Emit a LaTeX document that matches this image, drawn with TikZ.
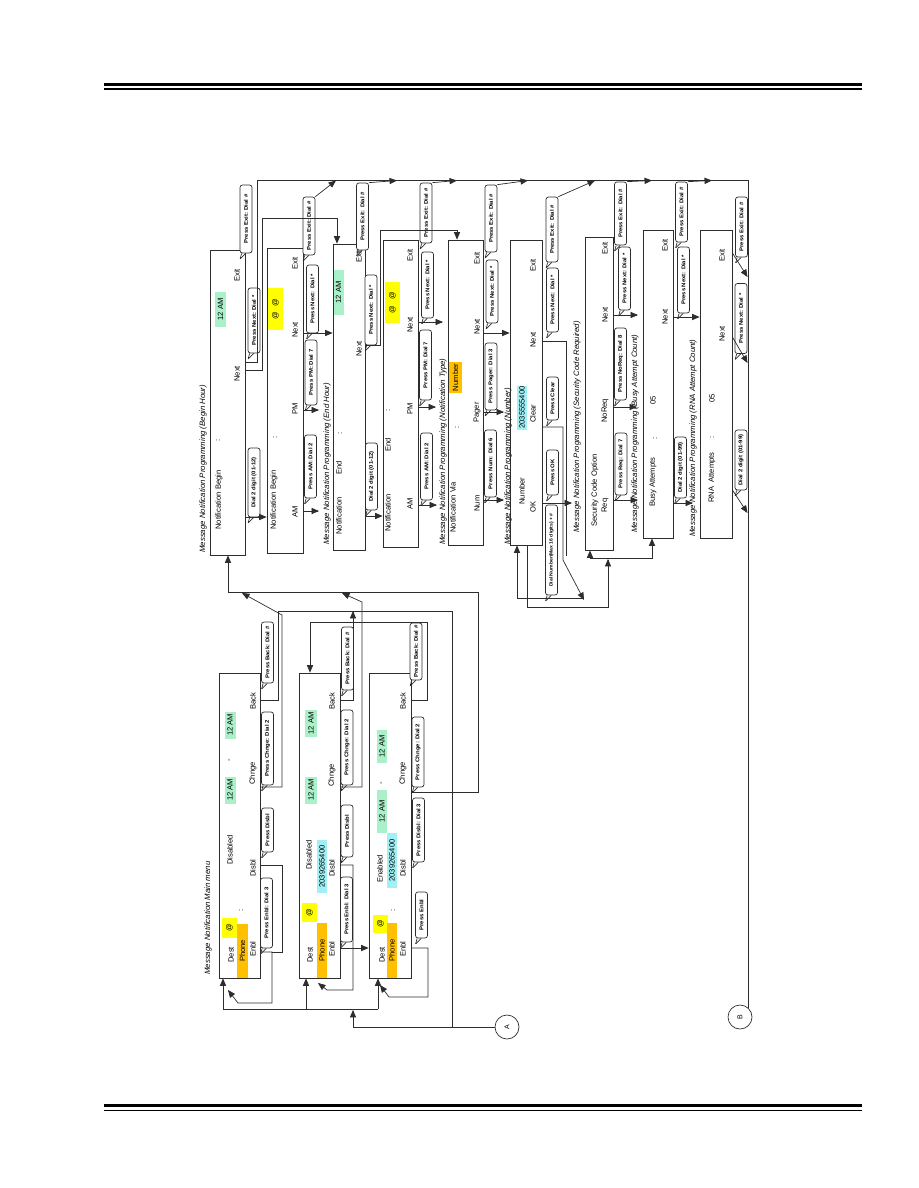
\documentclass[tikz,border=0pt]{standalone}
\usepackage{fontspec}
\setmainfont{Liberation Sans}
\newfontfamily\bubfont[FakeStretch=1.1]{Liberation Sans}
\usepackage{tikz}
\usetikzlibrary{calc,arrows,shapes,positioning}

\definecolor{ln}{RGB}{45,45,45}
\definecolor{hlgreen}{RGB}{170,240,200}
\definecolor{hlyellow}{RGB}{255,255,0}
\definecolor{hlorange}{RGB}{255,192,0}
\definecolor{hlcyan}{RGB}{160,240,245}

\tikzset{
  scr/.style={draw, line width=0.8pt, inner sep=0pt},
  lbl/.style={rotate=90, anchor=west, inner sep=0pt, text=black, font=\fontsize{7.6}{9}\selectfont},
  ttl/.style={lbl, font=\fontsize{7.8}{9}\selectfont\itshape},
  hl/.style={lbl, anchor=center, fill=#1, minimum height=11pt},
  bubble/.style={draw, fill=white, rounded corners=2.5pt, rotate=90, inner xsep=1pt, inner ysep=0pt,
    minimum height=12pt, minimum width=#1, text=black, font=\bubfont\bfseries\fontsize{5.4}{6}\selectfont,
    append after command={(\tikzlastnode.north west) ++(2,0) edge ++(-1.5,5.5)
      (\tikzlastnode.north west) ++(6,0) edge ++(-5.5,5.5)}},
  bubble/.default=60,
  pin/.style={draw, circle, minimum size=24pt, inner sep=0pt, text=black, font=\fontsize{7}{8}\selectfont},
}

\begin{document}
\begin{tikzpicture}[x=1pt,y=-1pt,>=triangle 45,line width=0.7pt,color=ln]
\useasboundingbox (0,0) rectangle (918,1188);

% header and footer rules
\fill[black] (104,83) rectangle (862,86);
\fill[black] (104,88.5) rectangle (862,90.5);
\fill[black] (104,1104) rectangle (862,1107);
\fill[black] (104,1109.5) rectangle (862,1111);

% titles
\node[ttl] (tmain) at (208,975) {Message Notification Main menu};
\node[ttl] (tbegin) at (203,553) {Message Notification Programming (Begin Hour)};
\node[ttl] (tend) at (327,545) {Message Notification Programming (End Hour)};
\node[ttl] (ttype) at (443,545) {Message Notification Programming (Notification Type)};
\node[ttl] (tnum) at (508,545) {Message Notification Programming (Number)};
\node[ttl] (tsec) at (577,533) {Message Notification Programming (Security Code Required)};
\node[ttl] (tbusy) at (635,533) {Message Notification Programming (Busy Attempt Count)};
\node[ttl] (trna) at (693,537) {Message Notification Programming (RNA Attempt Count)};

% programming screens
\node[scr, minimum width=35, minimum height=305] (p1) at (227.5,402.5) {};
\node[scr, minimum width=36, minimum height=305] (p2) at (285,400.5) {};
\node[scr, minimum width=32, minimum height=306] (p3) at (349,397) {};
\node[scr, minimum width=35, minimum height=307] (p4) at (400.5,393.5) {};
\node[scr, minimum width=35, minimum height=305] (p5) at (465.5,392.5) {};
\node[scr, minimum width=32, minimum height=305] (p6) at (526,392.5) {};
\node[scr, minimum width=28, minimum height=313] (p7) at (599,393.5) {};
\node[scr, minimum width=30, minimum height=308] (p8) at (658,384) {};
\node[scr, minimum width=32, minimum height=308] (p9) at (716,384) {};

% main menu screens
\node[scr, minimum width=41, minimum height=305] (m1) at (239.5,825.5) {};
\node[scr, minimum width=41, minimum height=305] (m2) at (319.5,825.5) {};
\node[scr, minimum width=42, minimum height=305] (m3) at (390,825.5) {};

% begin hour
\node[lbl] (p1a) at (219,530) {Notification Begin};
\node[lbl] (p1b) at (218,442) {:};
\node[hl=hlgreen, minimum width=35] (p1c) at (220.5,309.5) {12 AM};
\node[lbl] (p1d) at (237,382) {Next};
\node[lbl] (p1e) at (237,282) {Exit};
\node[lbl] (p2a) at (274,530) {Notification Begin};
\node[lbl] (p2b) at (275,439) {:};
\node[hl=hlyellow, minimum width=42, minimum height=15] (p2c) at (275.5,309) {@\hspace{6pt}@};
\node[lbl] (p2d) at (295,518) {AM};
\node[lbl] (p2e) at (295,415) {PM};
\node[lbl] (p2f) at (295,338) {Next};
\node[lbl] (p2g) at (295,270) {Exit};
% end hour
\node[lbl] (p3a) at (339,535) {Notification};
\node[lbl] (p3b) at (339,475) {End};
\node[lbl] (p3c) at (340,435) {:};
\node[hl=hlgreen, minimum width=45, minimum height=10] (p3d) at (338.5,292.5) {12 AM};
\node[lbl] (p3e) at (359,357) {Next};
\node[lbl] (p3f) at (359,263) {Exit};
\node[lbl] (p4a) at (388,532) {Notification};
\node[lbl] (p4b) at (388,452) {End};
\node[lbl] (p4c) at (388,412) {:};
\node[hl=hlyellow, minimum width=41, minimum height=15] (p4d) at (392.5,302.5) {@\hspace{6pt}@};
\node[lbl] (p4e) at (410,510) {AM};
\node[lbl] (p4f) at (410,415) {PM};
\node[lbl] (p4g) at (410,333) {Next};
\node[lbl] (p4h) at (410,262) {Exit};
% notification type
\node[lbl] (p5a) at (453,533) {Notification Via};
\node[lbl] (p5b) at (457,429) {:};
\node[hl=hlorange, minimum width=31, minimum height=13] (p5c) at (455.5,377.5) {Number};
\node[lbl] (p5d) at (477,512) {Num};
\node[lbl] (p5e) at (477,423) {Pager};
\node[lbl] (p5f) at (477,335) {Next};
\node[lbl] (p5g) at (477,265) {Exit};
% number
\node[lbl] (p6a) at (522,505) {Number};
\node[hl=hlcyan, minimum width=44, minimum height=10] (p6b) at (522,407.5) {2035555400};
\node[lbl] (p6c) at (533,513) {OK};
\node[lbl] (p6d) at (533,423) {Clear};
\node[lbl] (p6e) at (533,348) {Next};
\node[lbl] (p6f) at (533,272) {Exit};
% security code
\node[lbl] (p7a) at (595,527) {Security Code Option};
\node[lbl] (p7b) at (605,513) {Req};
\node[lbl] (p7c) at (605,423) {NoReq};
\node[lbl] (p7d) at (605,323) {Next};
\node[lbl] (p7e) at (605,255) {Exit};
% busy attempts
\node[lbl] (p8a) at (653,507) {Busy Attempts};
\node[lbl] (p8b) at (655,440) {:};
\node[lbl] (p8c) at (653,405) {05};
\node[lbl] (p8d) at (665,325) {Next};
\node[lbl] (p8e) at (665,252) {Exit};
% rna attempts
\node[lbl] (p9a) at (712,503) {RNA\ \ Attempts};
\node[lbl] (p9b) at (712,439) {:};
\node[lbl] (p9c) at (712,403) {05};
\node[lbl] (p9d) at (722,342) {Next};
\node[lbl] (p9e) at (722,262) {Exit};

% main menu texts
\node[lbl] (m1a) at (231,963) {Dest};
\node[hl=hlyellow, minimum width=20, minimum height=15] (m1b) at (229.5,928) {@};
\node[lbl] (m1c) at (241,912) {:};
\node[hl=hlorange, minimum width=54] (m1d) at (242.5,951) {Phone};
\node[lbl] (m1e) at (253,957) {Enbl};
\node[lbl] (m1f) at (230,865) {Disabled};
\node[lbl] (m1g) at (253,877) {Disbl};
\node[hl=hlgreen, minimum width=27] (m1h) at (230,790) {12 AM};
\node[lbl] (m1i) at (230,762) {-};
\node[hl=hlgreen, minimum width=27] (m1j) at (230,725) {12 AM};
\node[lbl] (m1k) at (253,785) {Chnge};
\node[lbl] (m1l) at (253,710) {Back};
\node[lbl] (m2a) at (310,963) {Dest};
\node[hl=hlyellow, minimum width=19, minimum height=15] (m2b) at (309.5,912.5) {@};
\node[hl=hlorange, minimum width=55, minimum height=10] (m2c) at (322,950.5) {Phone};
\node[lbl] (m2d) at (332,957) {Enbl};
\node[lbl] (m2e) at (309,870) {Disabled};
\node[hl=hlcyan, minimum width=53, minimum height=10] (m2f) at (322,866.5) {2039265400};
\node[lbl] (m2g) at (332,877) {Disbl};
\node[hl=hlgreen, minimum width=27, minimum height=12] (m2h) at (311,790) {12 AM};
\node[hl=hlgreen, minimum width=27, minimum height=12] (m2i) at (311,723.5) {12 AM};
\node[lbl] (m2j) at (332,787) {Chnge};
\node[lbl] (m2k) at (332,710) {Back};
\node[lbl] (m3a) at (382,963) {Dest};
\node[hl=hlyellow, minimum width=18, minimum height=15] (m3b) at (380.5,924) {@};
\node[lbl] (m3c) at (393,912) {:};
\node[hl=hlorange, minimum width=55, minimum height=10] (m3d) at (392,950.5) {Phone};
\node[lbl] (m3e) at (403,957) {Enbl};
\node[lbl] (m3f) at (380,883) {Enabled};
\node[hl=hlcyan, minimum width=55, minimum height=10] (m3g) at (392,860.5) {2039265400};
\node[lbl] (m3h) at (403,877) {Disbl};
\node[hl=hlgreen, minimum width=43, minimum height=10] (m3i) at (382,811.5) {12 AM};
\node[lbl] (m3j) at (382,785) {-};
\node[hl=hlgreen, minimum width=33, minimum height=10] (m3k) at (382,746.5) {12 AM};
\node[lbl] (m3l) at (403,785) {Chnge};
\node[lbl] (m3m) at (403,710) {Back};

% bubbles
\node[bubble=68] (b1x) at (246,219) {Press Exit: Dial \#};
\node[bubble=65] (b1n) at (254,320.5) {Press Next: Dial *};
\node[bubble=69] (b1d) at (254,482.5) {Dial 2 digit (01-12)};
\node[bubble=58] (b2x) at (309,226) {Press Exit: Dial \#};
\node[bubble=68] (b2n) at (312.5,299) {Press Next: Dial *};
\node[bubble=65] (b2p) at (311,372.5) {Press PM: Dial 7};
\node[bubble=63] (b2a) at (310.5,466.5) {Press AM: Dial 2};
\node[bubble=67] (b3x) at (362.5,216.5) {Press Exit: Dial \#};
\node[bubble=70] (b3n) at (371,310) {Press Next: Dial *};
\node[bubble=67] (b3d) at (371.5,476.5) {Dial 2 digit (01-12)};
\node[bubble=60] (b4x) at (426,213) {Press Exit: Dial \#};
\node[bubble=66] (b4n) at (427.5,285) {Press Next: Dial *};
\node[bubble=70] (b4p) at (425.5,365) {Press PM: Dial 7};
\node[bubble=67] (b4a) at (426.5,466.5) {Press AM: Dial 2};
\node[bubble=67] (b5x) at (491,218.5) {Press Exit: Dial \#};
\node[bubble=63] (b5n) at (492,291.5) {Press Next: Dial *};
\node[bubble=67] (b5p) at (491,376.5) {Press Pager: Dial 3};
\node[bubble=67] (b5m) at (490.5,463.5) {Press Num: Dial 6};
\node[bubble=65] (b6x) at (552,229.5) {Press Exit: Dial \#};
\node[bubble=64] (b6n) at (552.5,300) {Press Next: Dial *};
\node[bubble=43] (b6c) at (552.5,398.5) {Press Clear};
\node[bubble=45] (b6o) at (552.5,472.5) {Press OK};
\node[bubble=90, font=\bubfont\bfseries\fontsize{4.6}{5}\selectfont] (b6d) at (551.5,550) {Dial Number(Max 16 digits) + \#};
\node[bubble=63] (b7x) at (620.5,213.5) {Press Exit: Dial \#};
\node[bubble=63] (b7n) at (624.5,278.5) {Press Next: Dial *};
\node[bubble=72] (b7q) at (620.5,364) {Press NoReq: Dial 8};
\node[bubble=62] (b7r) at (621,464) {Press Req: Dial 7};
\node[bubble=60] (b8x) at (681.5,212) {Press Exit: Dial \#};
\node[bubble=66] (b8n) at (683.5,280) {Press Next: Dial *};
\node[bubble=61] (b8d) at (680.5,467.5) {Dial 2 digit (01-99)};
\node[bubble=60] (b9x) at (741.5,227) {Press Exit: Dial \#};
\node[bubble=70] (b9n) at (741,318.5) {Press Next: Dial *};
\node[bubble=60] (b9d) at (741,460) {Dial 2 digit (01-99)};
\node[bubble=61] (bm1k) at (267.5,652.5) {Press Back: Dial \#};
\node[bubble=73] (bm1c) at (267.5,748.5) {Press Chnge: Dial 2};
\node[bubble=44] (bm1d) at (267.5,830) {Press Disbl};
\node[bubble=70] (bm1e) at (266.5,913) {Press Enbl: Dial 3};
\node[bubble=63] (bm2k) at (347.5,658.5) {Press Back: Dial \#};
\node[bubble=75] (bm2c) at (347,747.5) {Press Chnge: Dial 2};
\node[bubble=52] (bm2d) at (347,831) {Press Disbl};
\node[bubble=65] (bm2e) at (346.5,909.5) {Press Enbl: Dial 3};
\node[bubble=57] (bm3k) at (416,651.5) {Press Back: Dial \#};
\node[bubble=70] (bm3c) at (418,752) {Press Chnge: Dial 2};
\node[bubble=64] (bm3d) at (418.5,830) {Press Disbl: Dial 3};
\node[bubble=46] (bm3e) at (421.5,915) {Press Enbl};

% off-page connectors
\node[pin] (a) at (507,1027) {\rotatebox{90}{A}};
\node[pin] (b) at (740,1017) {\rotatebox{90}{B}};

% exit frame
\draw (p1.east |- 0,362) -- (257,362) -- (257,180) -- (748,180) -- (748,1008);
\draw[->] (b2x.south east) -- (336,180.5);
\draw[->] (b3x.south east) -- (397,180.5);
\draw[->] (b4x.south east) -- (457,180.5);
\draw[->] (b5x.south east) -- (528,180.5);
\draw[->] (b6x.south east) -- (595,180.5);
\draw[->] (b7x.south east) -- (652,180.5);
\draw[->] (b8x.south east) -- (712,180.5);
\draw[->] (p9.east |- 0,253) -- (747.5,277);
\draw[->] (p9.east |- 0,337) -- (747.5,363);
\draw[->] (p9.east |- 0,490) -- (747.5,513);

% begin and end hour
\draw[->] (p1.east |- 0,517) -- (p2.west |- 0,517);
\draw[->] (p1.east |- 0,370) -- (262,370) -- (262,218) -- (337,218) -- (337,0 |- p3.north);
\draw[->] (p2.east |- 0,511) -- (319,511);
\draw[->] (p2.east |- 0,410) -- (319,410);
\draw[->] (p2.east |- 0,333) -- (p3.west |- 0,333);
\draw[->] (p3.east |- 0,516) -- (p4.west |- 0,516);
\draw[->] (p3.east |- 0,345) -- (380,345) -- (380,230) -- (457,230) -- (457,0 |- p5.north);
\draw[->] (p4.east |- 0,505) -- (437,505);
\draw[->] (p4.east |- 0,407) -- (436,407);
\draw[->] (p4.east |- 0,322) -- (443,322);

% type and number
\draw[->] (p5.east |- 0,500) -- (504,500);
\draw[->] (p5.east |- 0,412) -- (504,412);
\draw[->] (p5.east |- 0,333) -- (p6.west |- 0,333);
\draw[->] (p6.east |- 0,503) -- (572,503);
\draw[->] (p6.east |- 0,427) -- (563,427) -- (563,560) -- (584,600);
\draw (p6.east |- 0,341) -- (566,341) -- (566,556);
\draw[->] (584,598) -- (517,598) -- (517,0 |- p6.south);
\draw[->] (527,0 |- p6.south) -- (527,607) -- (608,607) -- (608,559);
\draw[->] (608,558) -- (590,558) -- (590,0 |- p7.south);
\draw[->] (608,558) -- (652,558) -- (652,0 |- p8.south);

% security, busy
\draw[->] (p7.east |- 0,500) -- (638,500);
\draw[->] (p7.east |- 0,407) -- (637,407);
\draw[->] (p7.east |- 0,315) -- (638,315);
\draw[->] (p8.east |- 0,503) -- (693,503);
\draw[->] (p8.east |- 0,317) -- (p9.west |- 0,317);

% main menu to begin hour
\draw[->] (m3.east |- 0,792) -- (478,792) -- (478,592) -- (228,592) -- (228,0 |- p1.south);
\draw[->] (m1.east |- 0,787) -- (282,787) -- (282,615) -- (242,593);
\draw[->] (m2.east |- 0,787) -- (362,787) -- (362,602) -- (342,593);

% back keys
\draw (m1.east |- 0,700) -- (278,700) -- (278,611) -- (452,611) -- (452,1027);
\draw[->] (m2.east |- 0,700) -- (353,700) -- (353,611);
\draw[->] (m3.east |- 0,700) -- (427,700) -- (427,622) -- (310,622) -- (310,0 |- m2.north);

% enable and disable
\draw (m1.east |- 0,865) -- (282,865) -- (282,952) -- (272,952);
\draw[->] (m1.east |- 0,952) -- (272,952) -- (272,1003) -- (238,1003) -- (228,990);
\draw[->] (m2.east |- 0,948) -- (m3.west |- 0,948);
\draw[->] (m2.east |- 0,865) -- (353,865) -- (353,990) -- (327,990) -- (318,983);
\draw[->] (m3.east |- 0,948) -- (428,948) -- (428,997) -- (389,997) -- (380,985);

% entry from A
\draw[->] (a) -- (353,1027) -- (353,1010);
\draw (223,1009) -- (378,1009);
\draw[->] (223,1009) -- (223,0 |- m1.south);
\draw[->] (306,1009) -- (306,0 |- m2.south);
\draw[->] (378,1009) -- (378,0 |- m3.south);
\end{tikzpicture}
\end{document}
